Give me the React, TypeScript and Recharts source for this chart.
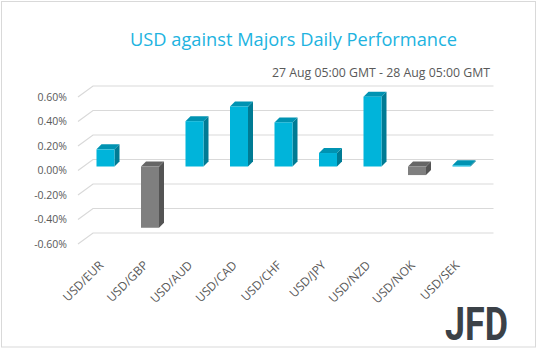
import React from "react";
import { BarChart, Bar, XAxis, YAxis, CartesianGrid } from "recharts";

const pairs = ["USD/EUR", "USD/GBP", "USD/AUD", "USD/CAD", "USD/CHF", "USD/JPY", "USD/NZD", "USD/NOK", "USD/SEK"];
const changes = [0.14, -0.5, 0.37, 0.49, 0.36, 0.11, 0.57, -0.07, 0.01];
const yTicks = [-0.6, -0.4, -0.2, 0, 0.2, 0.4, 0.6];

const data = pairs.map((pair, i) => ({ pair, change: changes[i] }));

// depth of the floor/back wall and of each bar
const WALL_DX = 15;
const WALL_DY = 11;
const BAR_DX = 5.5;
const BAR_DY = 4;
const DEPTH = 5;

const gridLine = (props: any) => {
  const { x1, x2, y1, key } = props;
  const d = `M${x1},${y1} L${x1 + WALL_DX},${y1 - WALL_DY} L${x2 + WALL_DX},${y1 - WALL_DY}`;
  return <path key={key} d={d} fill="none" stroke="#d9d9d9" strokeWidth={1.2} />;
};

const Bar3D = (props: any) => {
  const { x, y, width, height, payload } = props;
  const up = payload.change >= 0;
  const h = Math.abs(height);
  const top = Math.min(y, y + height) - BAR_DY;
  const left = x + BAR_DX;
  const front = up ? "#00b4da" : "#7f7f7f";
  const side = up ? "#007b94" : "#545454";
  const cap = up ? "#0093b2" : "#666666";
  const r = left + width;
  return (
    <g>
      <polygon
        points={`${r},${top} ${r + DEPTH},${top - DEPTH} ${r + DEPTH},${top + h - DEPTH} ${r},${top + h}`}
        fill={side}
      />
      <polygon
        points={`${left},${top} ${left + DEPTH},${top - DEPTH} ${r + DEPTH},${top - DEPTH} ${r},${top}`}
        fill={cap}
      />
      <rect x={left} y={top} width={width} height={h} fill={front} />
    </g>
  );
};

const PairTick = (props: any) => {
  const { x, y, payload } = props;
  const tx = x + 4;
  const ty = y + 22;
  return (
    <text
      x={tx}
      y={ty}
      transform={`rotate(-45 ${tx} ${ty})`}
      textAnchor="end"
      fontSize={12}
      fill="#595959"
      fontFamily="Open Sans"
    >
      {payload.value}
    </text>
  );
};

export default function App() {
  return (
    <div style={{ position: "absolute", left: 0, top: 0, width: 538, height: 351, background: "#fff" }}>
      <BarChart
        width={538}
        height={351}
        data={data}
        margin={{ top: 97, right: 59.5, bottom: 77, left: 8 }}
        barSize={18}
      >
        <CartesianGrid vertical={false} horizontal={gridLine} />
        <XAxis
          dataKey="pair"
          interval={0}
          height={30}
          axisLine={false}
          tickLine={false}
          tickSize={0}
          tickMargin={0}
          tick={<PairTick />}
        />
        <YAxis
          width={70}
          domain={[-0.6, 0.6]}
          ticks={yTicks}
          axisLine={false}
          tickLine={false}
          tickSize={0}
          tickMargin={11}
          tickFormatter={(v: number) => `${v.toFixed(2)}%`}
          tick={{ fontSize: 10.5, fill: "#595959", fontFamily: "Open Sans" }}
        />
        <Bar dataKey="change" shape={<Bar3D />} isAnimationActive={false} />
      </BarChart>
      <svg
        width={538}
        height={351}
        style={{ position: "absolute", left: 0, top: 0, pointerEvents: "none" }}
      >
        <rect x={1.5} y={1.5} width={534} height={345.5} fill="none" stroke="#d9d9d9" />
        <text
          x={293.5}
          y={46}
          textAnchor="middle"
          fontSize={18}
          fill="#21b3df"
          fontFamily="Open Sans"
          textLength={327}
          lengthAdjust="spacingAndGlyphs"
        >
          USD against Majors Daily Performance
        </text>
        <text
          x={490}
          y={77}
          textAnchor="end"
          fontSize={12}
          fill="#595959"
          fontFamily="Open Sans"
          textLength={218}
          lengthAdjust="spacingAndGlyphs"
        >
          27 Aug 05:00 GMT - 28 Aug 05:00 GMT
        </text>
        <text
          x={445}
          y={340}
          fontSize={47}
          fontWeight={700}
          fill="#3b4147"
          fontFamily="Roboto"
          textLength={63}
          lengthAdjust="spacingAndGlyphs"
        >
          JFD
        </text>
      </svg>
    </div>
  );
}
